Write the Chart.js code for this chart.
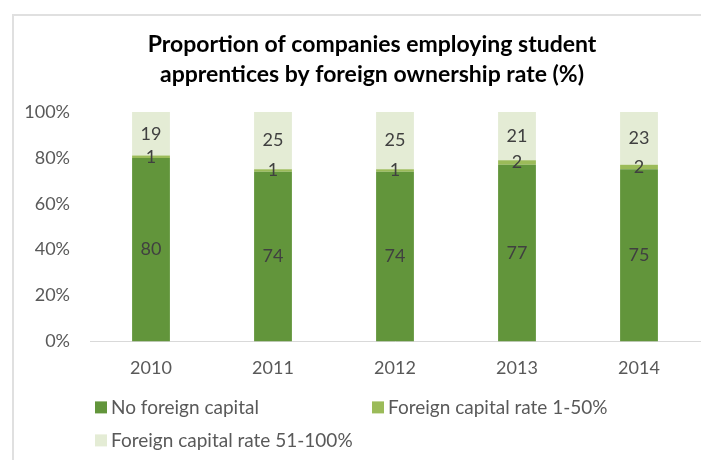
<!DOCTYPE html>
<html>
<head>
<meta charset="utf-8">
<script src="https://cdn.jsdelivr.net/npm/chart.js@4.4.1/dist/chart.umd.min.js"></script>
<style>
  html, body { margin: 0; padding: 0; background: #fff; overflow: hidden; }
  #frame {
    position: absolute; left: 12px; top: 14px; width: 760px; height: 500px;
    border-top: 2px solid #e0e0e0; border-left: 2px solid #e0e0e0;
  }
  #chart { position: absolute; left: 0; top: 0; }
</style>
</head>
<body>
<div id="frame"></div>
<canvas id="chart" width="701" height="460"></canvas>
<script>
const years = ['2010', '2011', '2012', '2013', '2014'];
const noForeign = [80, 74, 74, 77, 75];
const foreignLow = [1, 1, 1, 2, 2];
const foreignHigh = [19, 25, 25, 21, 23];
const seriesNames = ['No foreign capital', 'Foreign capital rate 1-50%', 'Foreign capital rate 51-100%'];
const titleLines = ['Proportion of companies employing student', 'apprentices by foreign ownership rate (%)'];

const FONT = 'Lato, "Open Sans", sans-serif';

// numbers in the middle of each stacked piece
const segmentLabels = {
  id: 'segmentLabels',
  afterDatasetsDraw(chart) {
    const ctx = chart.ctx;
    ctx.save();
    ctx.font = '18px ' + FONT;
    ctx.fillStyle = '#404040';
    ctx.textAlign = 'center';
    ctx.textBaseline = 'middle';
    chart.data.datasets.forEach((ds, i) => {
      chart.getDatasetMeta(i).data.forEach((bar, j) => {
        ctx.fillText(ds.data[j], bar.x, (bar.y + bar.base) / 2);
      });
    });
    ctx.restore();
  }
};

// two-column legend under the axis
const gridLegend = {
  id: 'gridLegend',
  afterDraw(chart) {
    const ctx = chart.ctx;
    const area = chart.chartArea;
    ctx.save();
    ctx.font = '19px ' + FONT;
    ctx.textBaseline = 'middle';
    ctx.textAlign = 'left';
    chart.data.datasets.forEach((ds, i) => {
      const col = i % 2;
      const row = Math.floor(i / 2);
      const x = area.left + 5 + col * 277;
      const y = area.bottom + 66 + row * 33;
      ctx.fillStyle = ds.backgroundColor;
      ctx.fillRect(x, y - 6, 12, 12);
      ctx.fillStyle = '#595959';
      ctx.fillText(ds.label, x + 16, y);
    });
    ctx.restore();
  }
};

// centre the title over the plot frame rather than the whole canvas
const titleSpan = {
  id: 'titleSpan',
  afterLayout(chart) {
    const t = chart.titleBlock;
    t.left = 44;
    t.right = 700;
    t.width = t.right - t.left;
  }
};

new Chart(document.getElementById('chart'), {
  type: 'bar',
  data: {
    labels: years,
    datasets: [
      { label: seriesNames[0], data: noForeign, backgroundColor: '#62953b' },
      { label: seriesNames[1], data: foreignLow, backgroundColor: '#9bbb59' },
      { label: seriesNames[2], data: foreignHigh, backgroundColor: '#e4ecd5' }
    ]
  },
  options: {
    responsive: false,
    animation: false,
    layout: { padding: { left: 0, right: 1, top: 0, bottom: 65 } },
    categoryPercentage: 1,
    barPercentage: 0.31,
    plugins: {
      legend: { display: false },
      tooltip: { enabled: false },
      title: {
        display: true,
        text: titleLines,
        color: '#000',
        font: { family: FONT, size: 23, weight: 'bold', lineHeight: '30px' },
        padding: { top: 30, bottom: 22 }
      }
    },
    scales: {
      x: {
        stacked: true,
        grid: { display: false, drawTicks: false },
        border: { display: true, color: '#d9d9d9', width: 1 },
        ticks: { color: '#595959', font: { family: FONT, size: 18 }, padding: 16 }
      },
      y: {
        stacked: true,
        min: 0,
        max: 100,
        grid: { display: false, drawTicks: false },
        border: { display: false },
        ticks: {
          stepSize: 20,
          color: '#595959',
          font: { family: FONT, size: 18 },
          padding: 20,
          callback: v => v + '%'
        },
        afterFit: s => { s.width = 90; }
      }
    }
  },
  plugins: [segmentLabels, gridLegend, titleSpan]
});
</script>
</body>
</html>
